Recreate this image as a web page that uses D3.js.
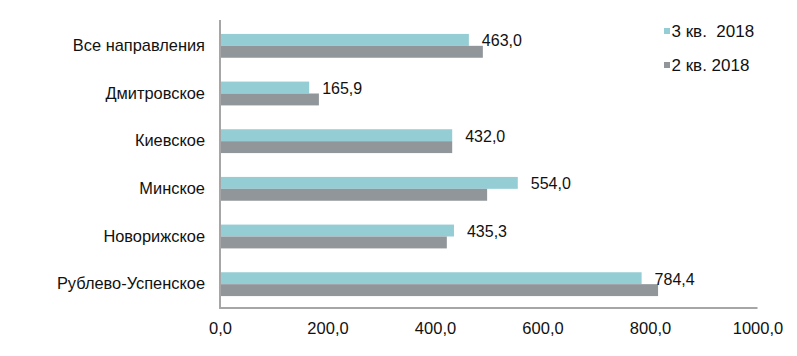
<!DOCTYPE html>
<html>
<head>
<meta charset="utf-8">
<script src="https://cdn.jsdelivr.net/npm/d3@7/dist/d3.min.js"></script>
<style>
  html, body { margin: 0; padding: 0; background: #fff; }
  svg { display: block; }
  text { font-family: "Liberation Sans", Arial, sans-serif; fill: #111; }
</style>
</head>
<body>
<script>
// ---- data ----
const categories = ["Все направления", "Дмитровское", "Киевское", "Минское", "Новорижское", "Рублево-Успенское"];
const seriesNames = ["3 кв.  2018", "2 кв. 2018"];
const q3_2018 = [463.0, 165.9, 432.0, 554.0, 435.3, 784.4];
const q2_2018 = [489, 184, 432, 497, 422, 815];
const tickValues = [0, 200, 400, 600, 800, 1000];
const colors = ["#95cdd4", "#91969b"];

const W = 797, H = 356;
const margin = { left: 220, top: 22 };
const plotRight = 757.5, plotBottom = 308;

const svg = d3.select("body").append("svg").attr("width", W).attr("height", H);

const x = d3.scaleLinear().domain([0, 1000]).range([margin.left, plotRight]);
const y = d3.scaleBand().domain(categories).range([margin.top, plotBottom]).paddingInner(0.5).paddingOuter(0.25);
const sub = d3.scaleBand().domain([0, 1]).range([0, y.bandwidth()]);

const series = [q3_2018, q2_2018];
const fmt = v => d3.format(".1f")(v).replace(".", ",");

// bars
series.forEach((vals, si) => {
  svg.append("g").selectAll("rect").data(vals).join("rect")
    .attr("x", x(0))
    .attr("y", (d, i) => y(categories[i]) + sub(si))
    .attr("width", d => x(d) - x(0))
    .attr("height", sub.bandwidth())
    .attr("fill", colors[si]);
});

// value labels (for 3 кв. series)
svg.append("g").selectAll("text").data(q3_2018).join("text")
  .attr("x", d => x(d) + 13)
  .attr("y", (d, i) => y(categories[i]) + sub(0) + sub.bandwidth() / 2 + 0.8)
  .attr("dy", "0.35em")
  .attr("font-size", 16)
  .text(d => fmt(d));

// y axis (category labels)
const yAxis = d3.axisLeft(y).tickSize(0).tickPadding(15);
const gy = svg.append("g").attr("transform", `translate(${x(0)},0)`).call(yAxis);
gy.select(".domain").remove();
gy.selectAll("text").attr("font-size", 16.4).attr("fill", "#111");

// x axis
const xAxis = d3.axisBottom(x).tickValues(tickValues).tickSize(0).tickPadding(15).tickFormat(fmt);
const gx = svg.append("g").attr("transform", `translate(0,${plotBottom})`).call(xAxis);
gx.select(".domain").remove();
gx.selectAll("text").attr("font-size", 16.5).attr("fill", "#111")
  .attr("dy", "0.35em").attr("y", 20.5);

// axis lines
svg.append("line").attr("x1", x(0)).attr("x2", x(0)).attr("y1", 20).attr("y2", plotBottom + 1)
  .attr("stroke", "#a6a6a6").attr("stroke-width", 2);
svg.append("line").attr("x1", x(0) - 1).attr("x2", plotRight).attr("y1", plotBottom).attr("y2", plotBottom)
  .attr("stroke", "#a6a6a6").attr("stroke-width", 2);

// legend
const lg = svg.append("g");
seriesNames.forEach((name, i) => {
  const cy = 31 + i * 34;
  lg.append("rect").attr("x", 664).attr("y", cy - 3).attr("width", 6).attr("height", 6).attr("fill", colors[i]);
  lg.append("text").attr("x", 671.5).attr("y", cy).attr("dy", "0.35em")
    .attr("font-size", 17).style("white-space", "pre").attr("xml:space", "preserve").text(name);
});
</script>
</body>
</html>
